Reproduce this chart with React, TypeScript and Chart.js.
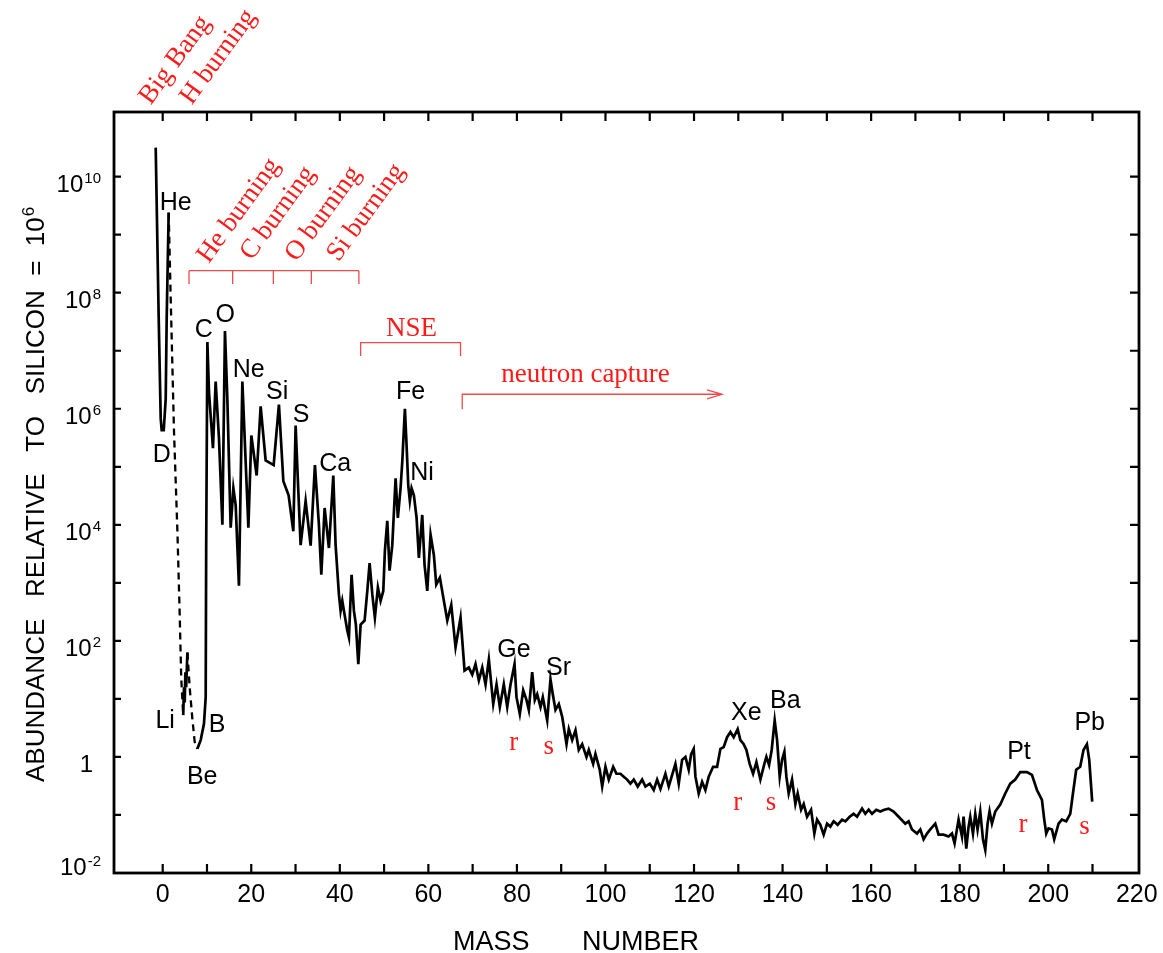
import React, { useEffect, useRef } from "react";
import { Chart, registerables } from "chart.js";

Chart.register(...registerables);

// ---------- DATA (mass number, log10 abundance relative to Si = 1e6) ----------
// H -> D -> He (solid)
const hMass = [-1.58, -0.9, -0.45, -0.23, 0.23, 0.68, 0.9, 1.35];
const hLog = [10.5, 7.55, 5.83, 5.63, 5.63, 6.17, 7.55, 9.38];
// He -> Li (dashed)
const heLiMass = [1.35, 1.81, 2.55, 3.32, 3.84, 4.18, 4.63];
const heLiLog = [9.38, 7.89, 5.61, 3.89, 2.45, 1.37, 0.72];
// Li (solid)
const liMass = [4.63, 4.81, 4.97, 5.12, 5.3, 5.58];
const liLog = [0.72, 1.2, 0.94, 1.46, 1.2, 1.8];
// Li -> Be (dashed)
const liBeMass = [5.58, 6.09, 6.66, 7.22, 7.83];
const liBeLog = [1.8, 1.2, 0.69, 0.26, 0.14];
// Be -> Pb (solid)
const mainMass = [
  7.83, 8.58, 9.32, 9.71, 9.82, 10.09, 10.45, 11.35, 11.96, 12.71, 13.48, 14.06, 14.6, 15.35, 15.96, 16.48,
  17.22, 17.99, 19.35, 20.02, 21.22, 22.12, 23.25, 25.06, 26.25, 27.25, 28.44, 29.5, 30.02, 30.63, 31.15,
  32.28, 33.41, 34.38, 35.28, 35.82, 36.57, 37.54, 38.53, 39.05, 39.8, 40.18, 40.56, 40.93, 41.69, 42.06,
  42.66, 43.18, 43.63, 44.18, 44.7, 45.6, 46.21, 46.73, 47.34, 47.92, 48.6, 49.21, 49.82, 50.18, 50.72,
  51.24, 51.85, 52.6, 53.11, 53.72, 54.11, 54.7, 55.08, 55.46, 55.82, 56.21, 56.73, 57.34, 57.86, 58.62,
  59.14, 59.75, 60.5, 61.24, 61.78, 62.6, 64.27, 65.17, 66.14, 67.27, 68.17, 69.14, 69.91, 70.65, 71.4,
  72.17, 72.91, 73.66, 74.65, 75.4, 76.14, 77.04, 77.81, 78.56, 79.46, 79.91, 80.65, 81.42, 82.17, 82.69,
  83.45, 84.04, 84.58, 85.33, 85.85, 86.84, 87.58, 88.1, 88.71, 89.46, 90.23, 91.2, 91.72, 92.48, 93.23,
  93.97, 94.74, 95.71, 96.23, 97.22, 97.74, 98.71, 99.26, 100.0, 100.75, 101.74, 102.48, 103.39, 104.13,
  104.9, 105.64, 106.39, 107.29, 108.28, 109.03, 110.0, 110.9, 111.67, 112.42, 113.54, 114.29, 115.06,
  115.8, 116.55, 117.31, 118.06, 118.8, 119.35, 119.93, 120.32, 121.06, 121.83, 122.57, 123.32, 124.31,
  125.21, 125.96, 126.7, 127.47, 128.22, 128.96, 129.86, 130.47, 131.22, 131.83, 132.57, 133.34, 134.09,
  134.99, 135.89, 136.34, 136.95, 137.54, 138.22, 138.76, 139.35, 139.89, 140.41, 140.86, 141.38, 142.14,
  142.89, 143.41, 144.18, 144.77, 145.53, 146.44, 147.18, 147.79, 148.53, 149.28, 150.05, 150.79, 151.54,
  152.44, 153.43, 154.18, 155.15, 156.05, 156.82, 157.95, 158.69, 159.44, 160.2, 161.17, 162.08, 162.98,
  163.95, 165.08, 166.21, 167.72, 168.47, 169.23, 170.36, 171.11, 171.85, 172.62, 173.36, 174.49, 175.24,
  176.36, 177.49, 178.26, 178.85, 179.75, 180.52, 180.88, 181.49, 182.01, 182.39, 183.0, 183.52, 184.04,
  184.65, 185.26, 185.78, 186.3, 186.75, 187.29, 188.04, 189.16, 190.29, 191.42, 192.55, 193.68, 195.19,
  196.32, 197.45, 198.58, 199.1, 199.55, 200.07, 200.84, 201.35, 202.33, 203.09, 204.06, 204.97, 205.58,
  206.32, 207.22, 207.97, 208.74, 209.26, 209.64, 209.93,
];
const mainLog = [
  0.14, 0.29, 0.57, 1.03, 3.6, 7.15, 6.29, 5.32, 6.47, 5.49, 4.0, 7.34, 6.17, 3.95, 4.63, 4.34,
  2.95, 6.47, 3.95, 5.54, 4.85, 6.04, 5.11, 5.03, 6.07, 4.75, 4.51, 3.89, 5.71, 4.58, 3.65,
  4.41, 3.64, 5.03, 4.0, 3.14, 4.29, 3.6, 4.85, 3.65, 2.8, 2.52, 2.69, 2.52, 2.18, 2.06,
  3.14, 2.52, 2.28, 1.6, 2.28, 2.35, 2.86, 3.34, 2.8, 2.4, 2.92, 2.69, 2.86, 3.55, 4.07,
  3.21, 3.65, 4.8, 4.12, 4.63, 5.09, 6.0, 5.37, 4.68, 4.41, 4.63, 4.51, 4.12, 3.43, 4.17,
  3.31, 2.86, 3.83, 3.48, 2.97, 3.09, 2.35, 2.62, 1.89, 2.4, 1.49, 1.54, 1.42, 1.6, 1.32,
  1.54, 1.25, 1.68, 0.91, 1.25, 0.86, 1.25, 0.86, 1.25, 1.6, 1.03, 0.74, 1.15, 0.98, 0.81,
  1.46, 0.98, 1.08, 0.86, 1.03, 0.63, 1.34, 1.08, 0.81, 0.91, 0.69, 0.22, 0.48, 0.29, 0.46,
  0.12, 0.22, 0.0, 0.12, -0.12, 0.05, -0.22, -0.51, -0.17, -0.39, -0.17, -0.29, -0.29, -0.34,
  -0.39, -0.46, -0.39, -0.51, -0.39, -0.51, -0.46, -0.57, -0.39, -0.55, -0.29, -0.51, -0.31,
  -0.12, -0.46, -0.05, 0.0, -0.22, 0.05, 0.14, -0.34, -0.63, -0.43, -0.57, -0.34, -0.17,
  -0.17, 0.14, 0.17, 0.34, 0.43, 0.34, 0.48, 0.29, 0.22, 0.12, -0.12, -0.29, -0.09,
  -0.39, -0.12, 0.0, -0.14, 0.12, 0.63, 0.29, -0.34, -0.05, 0.09, -0.34, -0.63, -0.39,
  -0.81, -0.63, -0.91, -0.81, -1.03, -0.91, -1.32, -1.08, -1.17, -1.34, -1.15, -1.2, -1.11,
  -1.17, -1.08, -1.11, -1.03, -0.98, -1.03, -0.89, -0.98, -0.91, -0.98, -0.91, -0.94, -0.91,
  -0.89, -0.94, -1.03, -1.15, -1.11, -1.25, -1.32, -1.25, -1.42, -1.32, -1.25, -1.15, -1.34,
  -1.34, -1.37, -1.32, -1.49, -1.08, -1.37, -1.03, -1.58, -1.2, -1.03, -1.32, -0.98, -1.25,
  -0.94, -1.42, -1.6, -1.15, -0.94, -1.15, -0.94, -0.82, -0.63, -0.46, -0.39, -0.26, -0.26,
  -0.31, -0.57, -0.74, -1.08, -1.32, -1.23, -1.25, -1.42, -1.15, -1.08, -1.11, -0.98, -0.63,
  -0.22, -0.17, 0.12, 0.22, -0.05, -0.46, -0.77,
];

// Element labels (text, mass position, log abundance baseline)
const elementNames = ["He", "D", "C", "O", "Ne", "Si", "S", "Ca", "Fe", "Ni", "Li", "B", "Be", "Ge", "Sr", "Xe", "Ba", "Pt", "Pb"];
const elementMass = [2.93, -0.23, 9.26, 14.11, 19.41, 25.85, 31.26, 38.94, 55.98, 58.58, 0.56, 12.3, 8.92, 79.35, 89.39, 131.83, 140.63, 193.39, 209.37];
const elementLog = [9.43, 5.09, 7.24, 7.5, 6.55, 6.16, 5.78, 4.92, 6.17, 4.77, 0.5, 0.43, -0.46, 1.72, 1.42, 0.63, 0.84, -0.03, 0.46];

// Process labels (rotated, red)
const processNames = ["Big Bang", "H burning", "He burning", "C burning", "O burning", "Si burning"];
const processMass = [-2.71, 6.55, 10.38, 20.09, 30.25, 39.73];
const processLog = [11.22, 11.22, 8.49, 8.54, 8.52, 8.52];

// Burning bracket
const burnBracketMass = [5.94, 15.8, 24.99, 33.57, 44.31];
const burnBracketLog = [8.38, 8.15];
// NSE bracket
const nseBracketMass = [44.7, 67.27];
const nseBracketLog = [7.14, 6.91];
// neutron capture arrow
const ncArrowMass = [67.65, 126.34];
const ncArrowLog = [6.25, 5.99];

// r / s labels
const rsNames = ["r", "s", "r", "s", "r", "s"];
const rsMass = [79.3, 87.2, 129.9, 137.4, 194.3, 208.2];
const rsLog = [0.12, 0.05, -0.91, -0.91, -1.3, -1.32];

// Axis ticks
const xTickValues = [0, 10, 20, 30, 40, 50, 60, 70, 80, 90, 100, 110, 120, 130, 140, 150, 160, 170, 180, 190, 200, 210];
const xTickLabels = [0, 20, 40, 60, 80, 100, 120, 140, 160, 180, 200, 220];
const yTickExps = [-1, 0, 1, 2, 3, 4, 5, 6, 7, 8, 9, 10];
const yLabelExps = [10, 8, 6, 4, 2, 0, -2];

const toPoints = (m: number[], l: number[]) => m.map((x, i) => ({ x, y: Math.pow(10, l[i]) }));

const SANS = "'Liberation Sans', Arial, sans-serif";
const SERIF = "'Liberation Serif', 'Times New Roman', serif";
const RED = "#ff1a1a";
const RED_LINE = "#f24a4a";

const decorPlugin = {
  id: "decor",
  afterDraw(chart: any) {
    const ctx = chart.ctx as CanvasRenderingContext2D;
    const xs = chart.scales.x;
    const ys = chart.scales.y;
    const area = chart.chartArea;
    const X = (v: number) => xs.getPixelForValue(v);
    const Y = (lg: number) => ys.getPixelForValue(Math.pow(10, lg));
    ctx.save();

    // frame
    ctx.strokeStyle = "#000";
    ctx.lineWidth = 2.8;
    ctx.strokeRect(area.left, area.top, area.right - area.left, area.bottom - area.top);

    // inward ticks
    ctx.lineWidth = 2.2;
    const tl = 9;
    ctx.beginPath();
    xTickValues.forEach((v) => {
      const px = X(v);
      ctx.moveTo(px, area.bottom);
      ctx.lineTo(px, area.bottom - tl);
      ctx.moveTo(px, area.top);
      ctx.lineTo(px, area.top + tl);
    });
    yTickExps.forEach((e) => {
      const py = Y(e);
      ctx.moveTo(area.left, py);
      ctx.lineTo(area.left + 7, py);
      ctx.moveTo(area.right, py);
      ctx.lineTo(area.right - tl, py);
    });
    ctx.stroke();

    // x tick labels
    ctx.fillStyle = "#000";
    ctx.font = `25px ${SANS}`;
    ctx.textAlign = "center";
    ctx.textBaseline = "alphabetic";
    xTickLabels.forEach((v) => {
      ctx.fillText(String(v), X(v), area.bottom + 29);
    });

    // y tick labels
    yLabelExps.forEach((e) => {
      const py = Y(e);
      const base = Math.min(py + 15, area.bottom + 2);
      ctx.textAlign = "right";
      if (e === 0) {
        ctx.font = `24px ${SANS}`;
        ctx.fillText("1", area.left - 21, base);
        return;
      }
      const R = area.left - 13;
      ctx.font = `15px ${SANS}`;
      const sup = String(e);
      const sw = ctx.measureText(sup).width;
      ctx.fillText(sup, R, base - 9);
      ctx.font = `24px ${SANS}`;
      ctx.fillText("10", R - sw - 1, base);
    });

    // axis titles
    ctx.font = `27px ${SANS}`;
    ctx.textAlign = "left";
    ctx.fillText("MASS", 453, 950);
    ctx.fillText("NUMBER", 582, 950);

    ctx.save();
    ctx.translate(44, 782);
    ctx.rotate(-Math.PI / 2);
    ctx.font = `26px ${SANS}`;
    ctx.textAlign = "left";
    const ytitle = "ABUNDANCE   RELATIVE   TO   SILICON  =  10";
    ctx.fillText(ytitle, 0, 0);
    const tw = ctx.measureText(ytitle).width;
    ctx.font = `17px ${SANS}`;
    ctx.fillText("6", tw + 1, -10);
    ctx.restore();

    // element labels
    ctx.font = `25px ${SANS}`;
    ctx.textAlign = "center";
    ctx.fillStyle = "#000";
    elementNames.forEach((n, i) => {
      ctx.fillText(n, X(elementMass[i]), Y(elementLog[i]));
    });

    // red annotations
    ctx.fillStyle = RED;
    ctx.font = `27px ${SERIF}`;
    ctx.textAlign = "left";
    processNames.forEach((n, i) => {
      ctx.save();
      ctx.translate(X(processMass[i]), Y(processLog[i]));
      ctx.rotate((-54 * Math.PI) / 180);
      ctx.fillText(n, 0, 0);
      ctx.restore();
    });

    ctx.strokeStyle = RED_LINE;
    ctx.lineWidth = 1.3;
    ctx.beginPath();
    // burning bracket
    ctx.moveTo(X(burnBracketMass[0]), Y(burnBracketLog[0]));
    ctx.lineTo(X(burnBracketMass[burnBracketMass.length - 1]), Y(burnBracketLog[0]));
    burnBracketMass.forEach((m) => {
      ctx.moveTo(X(m), Y(burnBracketLog[0]));
      ctx.lineTo(X(m), Y(burnBracketLog[1]));
    });
    // NSE bracket
    ctx.moveTo(X(nseBracketMass[0]), Y(nseBracketLog[1]));
    ctx.lineTo(X(nseBracketMass[0]), Y(nseBracketLog[0]));
    ctx.lineTo(X(nseBracketMass[1]), Y(nseBracketLog[0]));
    ctx.lineTo(X(nseBracketMass[1]), Y(nseBracketLog[1]));
    // neutron capture arrow
    const ax0 = X(ncArrowMass[0]);
    const ax1 = X(ncArrowMass[1]);
    const ay = Y(ncArrowLog[0]);
    ctx.moveTo(ax0, Y(ncArrowLog[1]));
    ctx.lineTo(ax0, ay);
    ctx.lineTo(ax1, ay);
    ctx.moveTo(ax1 - 15, ay - 4.5);
    ctx.lineTo(ax1, ay);
    ctx.lineTo(ax1 - 15, ay + 4.5);
    ctx.stroke();

    ctx.textAlign = "center";
    ctx.fillText("NSE", X((nseBracketMass[0] + nseBracketMass[1]) / 2 + 0.2), Y(7.26));
    ctx.fillText("neutron capture", X(95.49), Y(6.46));

    rsNames.forEach((n, i) => {
      ctx.fillText(n, X(rsMass[i]), Y(rsLog[i]));
    });

    ctx.restore();
  },
};

export default function App() {
  const ref = useRef<HTMLCanvasElement | null>(null);
  useEffect(() => {
    if (!ref.current) return;
    const solid = { borderColor: "#000", borderWidth: 2.7, pointRadius: 0, tension: 0, fill: false };
    const dashed = { ...solid, borderWidth: 2.3, borderDash: [7, 5] };
    const chart = new Chart(ref.current, {
      type: "line",
      data: {
        datasets: [
          { ...solid, label: "H-He", data: toPoints(hMass, hLog) },
          { ...dashed, label: "He-Li", data: toPoints(heLiMass, heLiLog) },
          { ...solid, label: "Li", data: toPoints(liMass, liLog) },
          { ...dashed, label: "Li-Be", data: toPoints(liBeMass, liBeLog) },
          { ...solid, label: "Be-Pb", data: toPoints(mainMass, mainLog) },
        ] as any,
      },
      options: {
        responsive: false,
        animation: false,
        events: [],
        layout: { padding: { top: 112, right: 24, left: 0, bottom: 0 } },
        plugins: { legend: { display: false }, tooltip: { enabled: false } },
        scales: {
          x: {
            type: "linear",
            min: -11,
            max: 220.5,
            ticks: { display: false },
            grid: { display: false },
            border: { display: false },
            afterFit: (s: any) => {
              s.height = 80;
            },
          },
          y: {
            type: "logarithmic",
            min: 0.01,
            max: 1.3e11,
            ticks: { display: false },
            grid: { display: false },
            border: { display: false },
            afterFit: (s: any) => {
              s.width = 114;
            },
          },
        },
      } as any,
      plugins: [decorPlugin],
    });
    return () => chart.destroy();
  }, []);
  return (
    <div style={{ position: "fixed", left: 0, top: 0, width: 1163, height: 953, background: "#fff" }}>
      <canvas ref={ref} width={1163} height={953} style={{ display: "block" }} />
    </div>
  );
}
